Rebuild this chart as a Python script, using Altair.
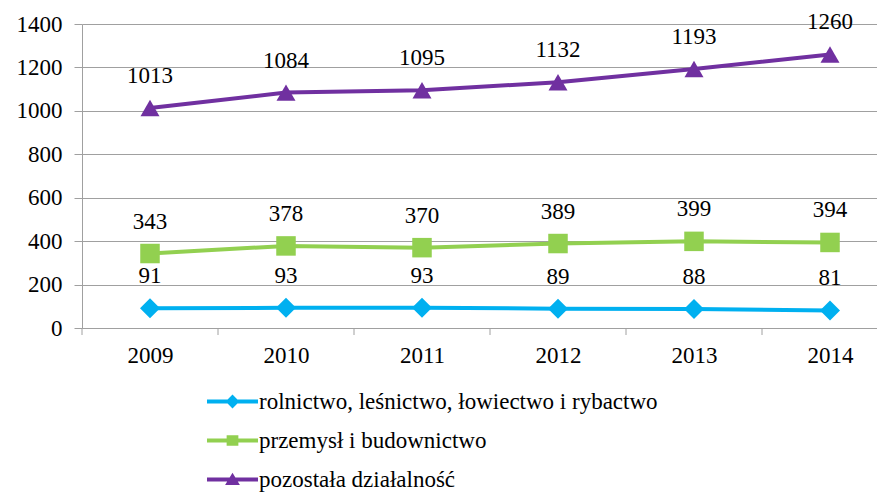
import altair as alt
import pandas as pd

years = [2009, 2010, 2011, 2012, 2013, 2014]
series = ["rolnictwo, leśnictwo, łowiectwo i rybactwo", "przemysł i budownictwo", "pozostała działalność"]
rolnictwo = [91, 93, 93, 89, 88, 81]
przemysl = [343, 378, 370, 389, 399, 394]
pozostala = [1013, 1084, 1095, 1132, 1193, 1260]
colors = ["#00B0F0", "#92D050", "#7030A0"]
y_ticks = [0, 200, 400, 600, 800, 1000, 1200, 1400]

rows = []
for name, vals in zip(series, [rolnictwo, przemysl, pozostala]):
    for yr, v in zip(years, vals):
        rows.append({"year": yr, "value": v, "series": name})
df = pd.DataFrame(rows)
bounds_df = pd.DataFrame({"b": [yr - 0.5 for yr in years]})

FONT = "Liberation Serif"
FS = 23
GRID = "#A0A0A0"
W, H = 795, 304
BAND = 136
x_domain = [years[0] - 0.5, years[0] - 0.5 + W / BAND]

# legend carrier rows: placed outside the x domain and clipped, only the legend is shown
legend_df = pd.DataFrame({"series": series, "year": [x_domain[1] + 1] * 3, "value": [0] * 3})

x_enc = alt.X("year:Q", scale=alt.Scale(domain=x_domain, nice=False, zero=False),
              axis=alt.Axis(values=years, format="d", ticks=False, grid=False, title=None,
                            labelFontSize=FS, labelFont=FONT, labelColor="#000", labelPadding=16,
                            domainColor=GRID, labelFlush=False, labelOverlap=False))
y_enc = alt.Y("value:Q", scale=alt.Scale(domain=[0, 1400], nice=False),
              axis=alt.Axis(values=y_ticks, format="d", title=None, grid=True, gridColor=GRID, tickSize=8,
                            tickColor=GRID, domainColor=GRID, labelFontSize=FS, labelFont=FONT,
                            labelColor="#000", labelPadding=12))

col_scale = alt.Scale(domain=series, range=colors)

base = alt.Chart(df)

lines = base.mark_line(strokeWidth=4).encode(
    x=x_enc, y=y_enc, color=alt.Color("series:N", scale=col_scale, legend=None))

points = base.mark_point(filled=True, opacity=1).encode(
    x="year:Q", y="value:Q",
    color=alt.Color("series:N", scale=col_scale, legend=None),
    shape=alt.Shape("series:N", scale=alt.Scale(domain=series, range=["diamond", "square", "triangle-up"]), legend=None),
    size=alt.Size("series:N", scale=alt.Scale(domain=series, range=[400, 361, 484]), legend=None))

labels = base.mark_text(dy=-32, baseline="middle", fontSize=FS, font=FONT, color="#000").encode(
    x="year:Q", y="value:Q", text=alt.Text("value:Q", format="d"))

ticks = alt.Chart(bounds_df).mark_rule(color=GRID, strokeWidth=1).encode(
    x="b:Q", y=alt.value(H), y2=alt.value(H + 7))

line_rect = "M-1,-0.08H1V0.08H-1Z"
leg_paths = [
    line_rect + "M0,-0.27L0.27,0L0,0.27L-0.27,0Z",
    line_rect + "M-0.23,-0.21H0.23V0.21H-0.23Z",
    line_rect + "M0,-0.26L0.29,0.22L-0.29,0.22Z",
]

legend_layer = alt.Chart(legend_df).mark_point(filled=True, opacity=1, clip=True).encode(
    x="year:Q", y="value:Q",
    color=alt.Color("series:N", scale=col_scale,
                    legend=alt.Legend(title=None, orient="none", legendX=125, legendY=352,
                                      direction="vertical", symbolSize=2601, symbolStrokeWidth=0,
                                      symbolOpacity=1, labelFontSize=FS, labelFont=FONT,
                                      labelColor="#000", labelOffset=1, rowPadding=1, padding=0,
                                      labelLimit=0)),
    shape=alt.Shape("series:N", scale=alt.Scale(domain=series, range=leg_paths)))

chart = alt.layer(lines, ticks, points, labels, legend_layer).resolve_scale(
    color="independent", shape="independent", size="independent"
).properties(
    width=W, height=H,
    autosize=alt.AutoSizeParams(type="none"),
    padding={"left": 74, "top": 16, "right": 0, "bottom": 164},
).configure_view(stroke=None)

chart.save("out.html", embed_options={"renderer": "svg", "actions": False})
